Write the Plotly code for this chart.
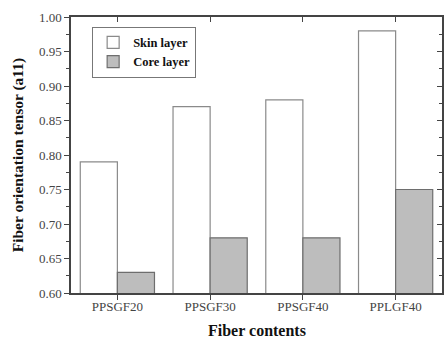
import plotly.graph_objects as go

categories = ["PPSGF20", "PPSGF30", "PPSGF40", "PPLGF40"]
skin_layer = [0.79, 0.87, 0.88, 0.98]
core_layer = [0.63, 0.68, 0.68, 0.75]
y_ticks = [0.60, 0.65, 0.70, 0.75, 0.80, 0.85, 0.90, 0.95, 1.00]

font = "Liberation Serif, Times New Roman, serif"

fig = go.Figure()
fig.add_trace(go.Bar(name="Skin layer", x=categories, y=skin_layer,
                     marker=dict(color="white", line=dict(color="#8a8a8a", width=1.2))))
fig.add_trace(go.Bar(name="Core layer", x=categories, y=core_layer,
                     marker=dict(color="#bdbdbd", line=dict(color="#6e6e6e", width=1.2))))
# invisible helper on secondary axes for mirrored inward ticks
fig.add_trace(go.Bar(x=categories, y=[None]*4, xaxis="x2", yaxis="y2", showlegend=False, hoverinfo="skip"))

axis_col = "#444444"
L, R, T, B = 71, 2, 17, 48
W, H = 446, 341
plot_w = W - L - R
plot_h = H - T - B

fig.update_layout(
    width=W, height=H,
    margin=dict(l=L, r=R, t=T, b=B),
    plot_bgcolor="white", paper_bgcolor="white",
    barmode="group", bargap=0.2, bargroupgap=0,
    font=dict(family=font, color="#333333", size=13),
    showlegend=True,
    legend=dict(x=0.057, y=0.965, xanchor="left", yanchor="top",
                bgcolor="white", bordercolor="#777777", borderwidth=1,
                font=dict(family=font, size=12.5, color="#111111", weight="bold"),
                itemwidth=30, tracegroupgap=0),
    xaxis=dict(type="category", range=[-0.5, 3.5], showline=True, linecolor=axis_col, linewidth=1.5,
               mirror=True,
               ticks="outside", ticklen=5, tickcolor=axis_col, tickwidth=1.2,
               minor=dict(ticks="outside", ticklen=3, tickcolor=axis_col),
               tickfont=dict(family=font, size=13, color="#444444"), ticklabelstandoff=-4,
               showgrid=False, zeroline=False),
    yaxis=dict(range=[0.60, 1.00], tickvals=y_ticks, tickformat=".2f", showline=True, linecolor=axis_col, linewidth=1.5,
               mirror=True,
               ticks="outside", ticklen=5, tickcolor=axis_col, tickwidth=1.2,
               minor=dict(ticks="outside", ticklen=3, tickcolor=axis_col, dtick=0.025),
               tickfont=dict(family=font, size=13, color="#444444"),
               showgrid=False, zeroline=False),
    xaxis2=dict(type="category", overlaying="x", side="top", matches="x", range=[-0.5, 3.5],
                showline=False,
                ticks="inside", ticklen=5, tickcolor=axis_col, showticklabels=False,
                minor=dict(ticks="inside", ticklen=3, tickcolor=axis_col),
                showgrid=False, zeroline=False),
    yaxis2=dict(overlaying="y", side="right", range=[0.60, 1.00], tickvals=y_ticks,
                showline=False,
                ticks="inside", ticklen=5, tickcolor=axis_col, showticklabels=False,
                minor=dict(ticks="inside", ticklen=3, tickcolor=axis_col, dtick=0.025),
                showgrid=False, zeroline=False),
    annotations=[
        dict(text="<b>Fiber contents</b>", x=0.5, y=-(330 - (H - B)) / plot_h, xref="paper", yref="paper",
             xanchor="center", yanchor="middle", showarrow=False,
             font=dict(family=font, size=16, color="#111111")),
        dict(text="<b>Fiber orientation tensor (a11)</b>", x=(18 - L) / plot_w, y=0.5, xref="paper", yref="paper",
             xanchor="center", yanchor="middle", showarrow=False, textangle=-90,
             font=dict(family=font, size=15.5, color="#111111")),
    ],
)

fig.write_html("out.html", config={"displayModeBar": False},
               post_script="document.body.style.margin='0';document.body.style.overflow='hidden';")
